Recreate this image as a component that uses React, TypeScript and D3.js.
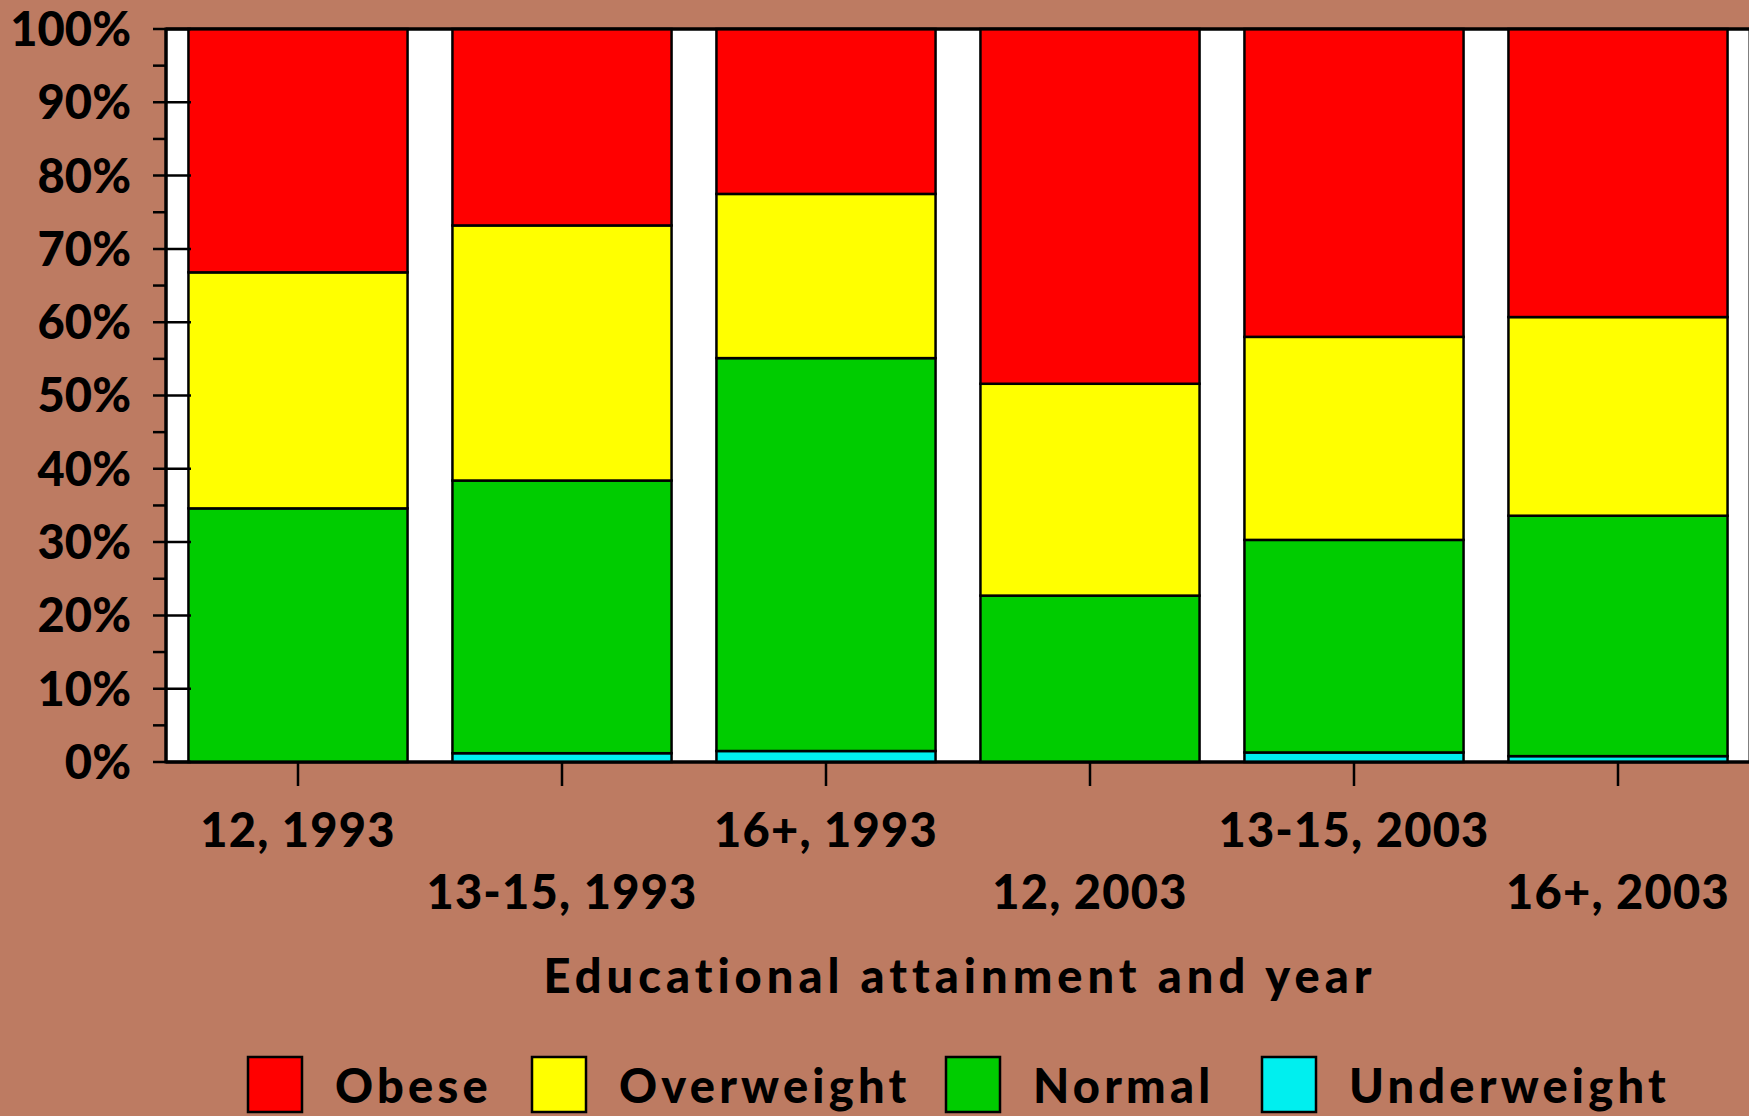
import React from "react";
import * as d3 from "d3";

const categories = ["12, 1993", "13-15, 1993", "16+, 1993", "12, 2003", "13-15, 2003", "16+, 2003"];
const underweight = [0, 1.2, 1.5, 0, 1.3, 0.8];
const normal = [34.6, 37.2, 53.6, 22.7, 29.0, 32.8];
const overweight = [32.2, 34.8, 22.4, 28.9, 27.7, 27.1];
const obese = [33.2, 26.8, 22.5, 48.4, 42.0, 39.3];
const seriesNames = ["Underweight", "Normal", "Overweight", "Obese"];
const legendOrder = ["Obese", "Overweight", "Normal", "Underweight"];
const yTicks = [0, 10, 20, 30, 40, 50, 60, 70, 80, 90, 100];
const xTitle = "Educational attainment and year";

const colors: Record<string, string> = {
  Underweight: "#00EFEF",
  Normal: "#00CC00",
  Overweight: "#FFFF00",
  Obese: "#FF0000",
};

const W = 1749, H = 1116;
const BG = "#BD7B62";
const FONT = "Lato, 'Open Sans', sans-serif";

export default function App() {
  const left = 166, right = 1750, top = 29, bottom = 762;
  const x = d3.scaleBand<string>().domain(categories).range([left, right]).paddingInner(0.17).paddingOuter(0.085);
  const y = d3.scaleLinear().domain([0, 100]).range([bottom, top]);

  const table = categories.map((c, i) => ({
    cat: c,
    Underweight: underweight[i],
    Normal: normal[i],
    Overweight: overweight[i],
    Obese: obese[i],
  }));
  const stack = d3.stack<any>().keys(seriesNames)(table);
  const minorTicks = d3.range(5, 100, 10);

  const legendBoxX = [248, 532, 946, 1262];

  return (
    <svg width={W} height={H} style={{ position: "absolute", left: 0, top: 0, display: "block" }}>
      <rect x={0} y={0} width={W} height={H} fill={BG} />
      <rect x={left} y={top} width={right - left} height={bottom - top} fill="#FFFFFF" stroke="#000" strokeWidth={3} />
      {stack.map((s) => (
        <g key={s.key}>
          {s.map((d, i) => {
            const h = y(d[0]) - y(d[1]);
            if (h <= 0) return null;
            return (
              <rect
                key={i}
                x={x(categories[i])!}
                y={y(d[1])}
                width={x.bandwidth()}
                height={h}
                fill={colors[s.key]}
                stroke="#000"
                strokeWidth={2.5}
              />
            );
          })}
        </g>
      ))}
      <line x1={left} x2={left} y1={top} y2={bottom} stroke="#000" strokeWidth={3} />
      <line x1={left} x2={right} y1={bottom} y2={bottom} stroke="#000" strokeWidth={3} />
      <line x1={left} x2={right} y1={top} y2={top} stroke="#000" strokeWidth={3} />
      {yTicks.map((t) => (
        <g key={t}>
          <line x1={left - 13} x2={left + 25} y1={y(t)} y2={y(t)} stroke="#000" strokeWidth={2.5} />
          <text
            x={131}
            y={y(t)}
            dy="0.36em"
            textAnchor="end"
            fontFamily={FONT}
            fontWeight={900}
            fontSize={47}
            fill="#000"
          >
            {t}%
          </text>
        </g>
      ))}
      {minorTicks.map((t) => (
        <line key={t} x1={left - 13} x2={left} y1={y(t)} y2={y(t)} stroke="#000" strokeWidth={2.5} />
      ))}
      {categories.map((c, i) => {
        const cx = x(c)! + x.bandwidth() / 2;
        return (
          <g key={c}>
            <line x1={cx} x2={cx} y1={bottom} y2={bottom + 24} stroke="#000" strokeWidth={2.5} />
            <text
              x={cx}
              y={i % 2 === 0 ? 847 : 909}
              textAnchor="middle"
              fontFamily={FONT}
              fontWeight={900}
              fontSize={47}
              letterSpacing={1.2}
              fill="#000"
            >
              {c}
            </text>
          </g>
        );
      })}
      <text
        x={(left + right) / 2 + 2}
        y={993}
        textAnchor="middle"
        fontFamily={FONT}
        fontWeight={900}
        fontSize={47}
        letterSpacing={5}
        fill="#000"
      >
        {xTitle}
      </text>
      {legendOrder.map((k, i) => (
        <g key={k}>
          <rect x={legendBoxX[i]} y={1057} width={54} height={55} fill={colors[k]} stroke="#000" strokeWidth={2.5} />
          <text
            x={legendBoxX[i] + 87}
            y={1103}
            fontFamily={FONT}
            fontWeight={900}
            fontSize={47}
            letterSpacing={4.2}
            fill="#000"
          >
            {k}
          </text>
        </g>
      ))}
    </svg>
  );
}
